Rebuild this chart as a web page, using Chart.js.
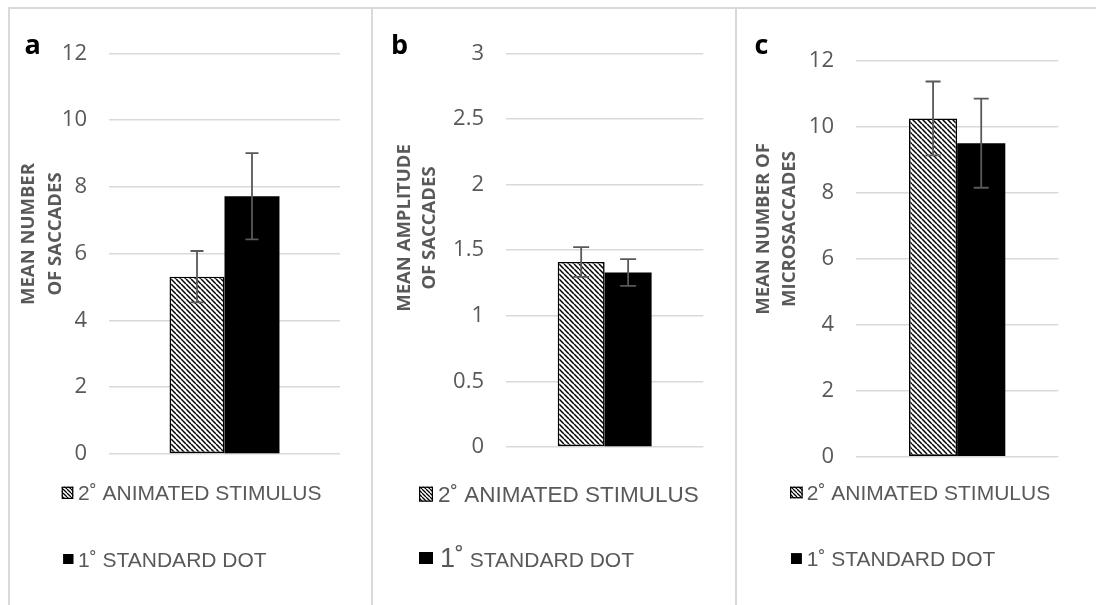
<!DOCTYPE html>
<html><head><meta charset="utf-8">
<script src="https://cdn.jsdelivr.net/npm/chart.js@4.4.0/dist/chart.umd.min.js"></script>
<style>
html,body{margin:0;padding:0;background:#fff;}
body{width:1096px;height:605px;position:relative;overflow:hidden;}
.frame{position:absolute;background:#d9d9d9;}
canvas{position:absolute;top:9px;}
</style></head><body>
<div class="frame" style="left:8px;top:7px;width:1088px;height:2px"></div>
<div class="frame" style="left:8px;top:7px;width:2px;height:598px"></div>
<div class="frame" style="left:371px;top:7px;width:2px;height:598px"></div>
<div class="frame" style="left:735px;top:7px;width:2px;height:598px"></div>
<canvas id="ca" width="360" height="596" style="left:11px"></canvas>
<canvas id="cb" width="360" height="596" style="left:374px"></canvas>
<canvas id="cc" width="359" height="596" style="left:737px"></canvas>
<script>
// ---- data ----
const categories = [''];
const seriesNames = ['2˚ ANIMATED STIMULUS', '1˚ STANDARD DOT'];
const panelLetters = ['a', 'b', 'c'];

const saccadeCount = [5.31, 7.72];
const saccadeCountErr = [0.77, 1.29];
const saccadeAmplitude = [1.41, 1.33];
const saccadeAmplitudeErr = [0.113, 0.102];
const microsaccadeCount = [10.25, 9.50];
const microsaccadeCountErr = [1.12, 1.35];

const ticksCount = [0, 2, 4, 6, 8, 10, 12];
const ticksAmplitude = [0, 0.5, 1, 1.5, 2, 2.5, 3];

const titleA = ['MEAN NUMBER', 'OF SACCADES'];
const titleB = ['MEAN AMPLITUDE', 'OF SACCADES'];
const titleC = ['MEAN NUMBER OF', 'MICROSACCADES'];

// ---- layout (absolute page pixels) ----
const TOP = 9;
const panels = [
  {id:'ca', left:11, width:360, values:saccadeCount, errors:saccadeCountErr, ticks:ticksCount, title:titleA, letter:panelLetters[0],
   area:{l:109, r:340, t:53.3, b:454}, letterX:24.5, titleX:[28.3, 55.3], titleY:234, cap:6.5,
   legend:[{box:[61.7,486.7,11.6,12.3], tx:78, base:500, size:21},
           {box:[63.3,554,10,10], tx:78, base:566.5, size:21}]},
  {id:'cb', left:374, width:360, values:saccadeAmplitude, errors:saccadeAmplitudeErr, ticks:ticksAmplitude, title:titleB, letter:panelLetters[1],
   area:{l:506, r:703.3, t:53.3, b:447}, letterX:391, titleX:[405, 430], titleY:228, cap:8,
   legend:[{box:[419,486.7,14,15], tx:438, base:501.7, size:22.5},
           {box:[419,552,14,12], tx:440, base:566.7, size:21, prefixSize:27}]},
  {id:'cc', left:737, width:359, values:microsaccadeCount, errors:microsaccadeCountErr, ticks:ticksCount, title:titleC, letter:panelLetters[2],
   area:{l:856, r:1058.3, t:60.7, b:456.7}, letterX:754.5, titleX:[763.3, 790], titleY:229, cap:7.5,
   legend:[{box:[790,486.7,12.7,11.6], tx:806.7, base:500, size:21},
           {box:[791,553.3,10.7,10.7], tx:806.7, base:566, size:21}]}
];

function makeHatch(ctx, size, lw) {
  const c = document.createElement('canvas');
  c.width = c.height = size;
  const g = c.getContext('2d');
  g.fillStyle = '#fff'; g.fillRect(0, 0, size, size);
  g.strokeStyle = '#000'; g.lineWidth = lw;
  g.beginPath();
  for (const k of [-size, 0, size]) { g.moveTo(k, 0); g.lineTo(k + size, size); }
  g.stroke();
  return ctx.createPattern(c, 'repeat');
}

const errorBarPlugin = {
  id: 'errorBars',
  afterDatasetsDraw(chart, args, opts) {
    const {ctx} = chart; const y = chart.scales.y;
    ctx.save();
    ctx.strokeStyle = '#595959'; ctx.lineWidth = 1.8;
    chart.data.datasets.forEach((ds, i) => {
      chart.getDatasetMeta(i).data.forEach((bar, j) => {
        const v = ds.data[j], e = ds.errors[j];
        const yt = y.getPixelForValue(v + e), yb = y.getPixelForValue(v - e);
        const x = bar.x, h = opts.cap;
        ctx.beginPath();
        ctx.moveTo(x, yt); ctx.lineTo(x, yb);
        ctx.moveTo(x - h, yt); ctx.lineTo(x + h, yt);
        ctx.moveTo(x - h, yb); ctx.lineTo(x + h, yb);
        ctx.stroke();
      });
    });
    ctx.restore();
  }
};

const annotatePlugin = {
  id: 'annotate',
  afterDraw(chart, args, o) {
    const {ctx} = chart; const p = o.panel;
    const dx = p.left, dy = TOP;
    ctx.save();
    // panel letter
    ctx.fillStyle = '#000';
    ctx.font = 'bold 27px "Open Sans"';
    ctx.textAlign = 'left'; ctx.textBaseline = 'alphabetic';
    ctx.fillText(p.letter, p.letterX - dx, 54 - dy);
    // y axis title
    ctx.fillStyle = '#595959';
    ctx.font = 'bold 18.5px "Open Sans"';
    ctx.textAlign = 'center'; ctx.textBaseline = 'middle';
    p.title.forEach((line, i) => {
      ctx.save();
      ctx.translate(p.titleX[i] - dx, p.titleY - dy);
      ctx.rotate(-Math.PI / 2);
      ctx.fillText(line, 0, 0);
      ctx.restore();
    });
    // legend
    ctx.textAlign = 'left'; ctx.textBaseline = 'alphabetic';
    chart.data.datasets.forEach((ds, i) => {
      const L = p.legend[i];
      const [bx, by, bw, bh] = L.box;
      ctx.fillStyle = ds.legendFill;
      ctx.fillRect(bx - dx, by - dy, bw, bh);
      ctx.strokeStyle = '#000'; ctx.lineWidth = 1.2;
      ctx.strokeRect(bx - dx + 0.6, by - dy + 0.6, bw - 1.2, bh - 1.2);
      ctx.fillStyle = '#595959';
      let x = L.tx - dx;
      let text = ds.label;
      if (L.prefixSize) {
        const pre = text.slice(0, 2);
        ctx.font = L.prefixSize + 'px "Liberation Sans"';
        ctx.fillText(pre, x, L.base - dy);
        x += ctx.measureText(pre).width;
        text = text.slice(2);
      }
      ctx.font = L.size + 'px "Liberation Sans"';
      ctx.fillText(text, x, L.base - dy);
    });
    ctx.restore();
  }
};

panels.forEach(p => {
  const ctx = document.getElementById(p.id).getContext('2d');
  const hatch = makeHatch(ctx, 5, 1.5);
  const hatchSmall = makeHatch(ctx, 4, 1.3);
  const a = p.area;
  new Chart(ctx, {
    type: 'bar',
    data: {
      labels: categories,
      datasets: [
        {label: seriesNames[0], data: [p.values[0]], errors: [p.errors[0]], backgroundColor: hatch, legendFill: hatchSmall,
         borderColor: '#000', borderWidth: 1.6, borderSkipped: false, categoryPercentage: 0.476, barPercentage: 1},
        {label: seriesNames[1], data: [p.values[1]], errors: [p.errors[1]], backgroundColor: '#000', legendFill: '#000',
         borderColor: '#000', borderWidth: 0, categoryPercentage: 0.476, barPercentage: 1}
      ]
    },
    options: {
      responsive: false, animation: false, devicePixelRatio: 1,
      layout: {padding: {left: 0, top: a.t - TOP, right: (p.left + p.width) - a.r, bottom: (TOP + 596) - a.b}},
      scales: {
        x: {display: false},
        y: {
          min: p.ticks[0], max: p.ticks[p.ticks.length - 1],
          afterBuildTicks: s => { s.ticks = p.ticks.map(v => ({value: v})); },
          afterFit: s => { s.width = a.l - p.left; },
          grid: {color: '#d9d9d9', lineWidth: 1.6, drawTicks: false},
          border: {display: false},
          ticks: {padding: 22, color: '#595959', font: {family: '"Open Sans"', size: 22},
                  callback: v => String(v)}
        }
      },
      plugins: {
        legend: {display: false},
        tooltip: {enabled: false},
        errorBars: {cap: p.cap},
        annotate: {panel: p}
      }
    },
    plugins: [errorBarPlugin, annotatePlugin]
  });
});
</script>
</body></html>
